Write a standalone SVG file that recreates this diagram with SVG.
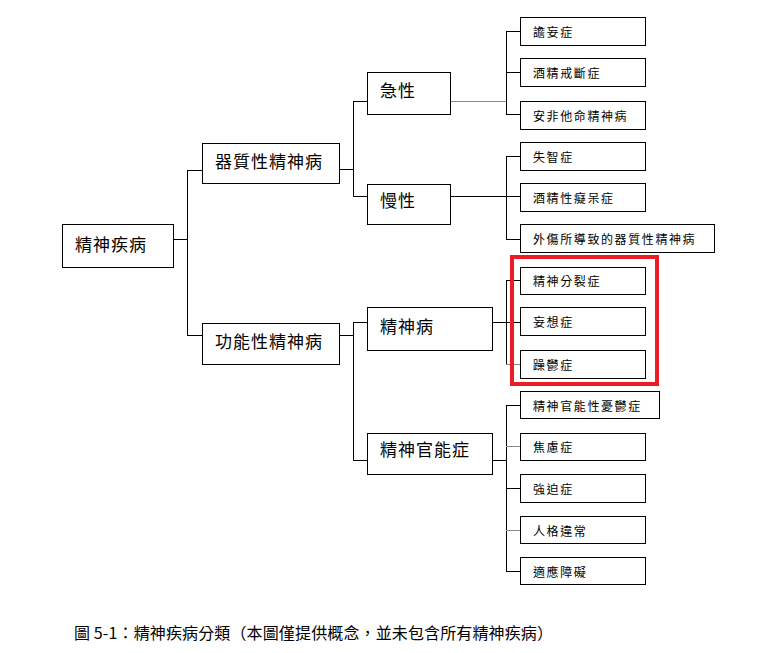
<svg xmlns="http://www.w3.org/2000/svg" width="777" height="653" viewBox="0 0 777 653">
<style>
.box{fill:#fff;stroke:#000;stroke-width:1}
.big{font-family:"Noto Sans CJK TC","Noto Sans CJK SC",sans-serif;font-size:17px;letter-spacing:1px;fill:#000}
.small{font-family:"Noto Sans CJK TC","Noto Sans CJK SC",sans-serif;font-size:12px;letter-spacing:1.6px;fill:#000}
.cap{font-family:"Noto Sans CJK TC","Noto Sans CJK SC",sans-serif;font-size:16px;fill:#000}
.ln{fill:none;stroke:#000;stroke-width:1}
.lg{fill:none;stroke:#888;stroke-width:1}
</style>
<rect width="777" height="653" fill="#fff"/>
<g id="connectors">
<path class="ln" d="M173,239.5H187.5M187.5,170V335.5M187,170.5H202M187,335.5H202"/>
<path class="ln" d="M339,169.5H353.5M353.5,101.5V197M353,101.5H367M353,196.5H367"/>
<path class="lg" d="M450,101.5H506"/>
<path class="ln" d="M506.5,31V114.5M506,31.5H520M506,72.5H520M506,114.5H520"/>
<path class="ln" d="M450,196.5H520M506.5,156.5V239.5M506,156.5H520M506,239.5H520"/>
<path class="ln" d="M339,335.5H353.5M353.5,322V460.5M353,322.5H367M353,460.5H367"/>
<path class="ln" d="M492,322.5H520M506.5,280.5V364.5M506,280.5H520"/>
<path class="lg" d="M506,364.5H520"/>
<path class="ln" d="M492,460.5H506.5M506.5,405V571.5M506,405.5H520M506,488.5H520M506,571.5H520"/>
<path class="lg" d="M506,446.5H520M506,530.5H520"/>
</g>
<g id="n-root"><rect class="box" x="62.5" y="224.5" width="111" height="43"/><text class="big" x="75" y="251">精神疾病</text></g>
<g id="n-organic"><rect class="box" x="202.5" y="143.5" width="137" height="40"/><text class="big" x="215" y="168">器質性精神病</text></g>
<g id="n-functional"><rect class="box" x="202.5" y="323.5" width="137" height="41"/><text class="big" x="215" y="348">功能性精神病</text></g>
<g id="n-acute"><rect class="box" x="367.5" y="72.5" width="83" height="42"/><text class="big" x="380" y="97">急性</text></g>
<g id="n-chronic"><rect class="box" x="367.5" y="184.5" width="83" height="40"/><text class="big" x="380" y="207">慢性</text></g>
<g id="n-psychosis"><rect class="box" x="367.5" y="307.5" width="125" height="43"/><text class="big" x="380" y="333">精神病</text></g>
<g id="n-neurosis"><rect class="box" x="367.5" y="433.5" width="125" height="41"/><text class="big" x="380" y="456">精神官能症</text></g>
<g id="n-delirium"><rect class="box" x="520.5" y="17.5" width="125" height="28"/><text class="small" x="533" y="37">譫妄症</text></g>
<g id="n-withdrawal"><rect class="box" x="520.5" y="58.5" width="125" height="28"/><text class="small" x="533" y="78">酒精戒斷症</text></g>
<g id="n-amphetamine"><rect class="box" x="520.5" y="101.5" width="125" height="28"/><text class="small" x="533" y="121">安非他命精神病</text></g>
<g id="n-dementia"><rect class="box" x="520.5" y="142.5" width="125" height="28"/><text class="small" x="533" y="162">失智症</text></g>
<g id="n-alcdementia"><rect class="box" x="520.5" y="183.5" width="125" height="28"/><text class="small" x="533" y="203">酒精性癡呆症</text></g>
<g id="n-trauma"><rect class="box" x="520.5" y="224.5" width="194" height="28"/><text class="small" x="533" y="244">外傷所導致的器質性精神病</text></g>
<g id="n-schizo"><rect class="box" x="520.5" y="267.5" width="125" height="27"/><text class="small" x="533" y="286">精神分裂症</text></g>
<g id="n-delusion"><rect class="box" x="520.5" y="307.5" width="125" height="28"/><text class="small" x="533" y="327">妄想症</text></g>
<g id="n-bipolar"><rect class="box" x="520.5" y="350.5" width="125" height="28"/><text class="small" x="533" y="370">躁鬱症</text></g>
<g id="n-neurodep"><rect class="box" x="520.5" y="391.5" width="139" height="27"/><text class="small" x="533" y="411">精神官能性憂鬱症</text></g>
<g id="n-anxiety"><rect class="box" x="520.5" y="433.5" width="125" height="27"/><text class="small" x="533" y="452">焦慮症</text></g>
<g id="n-ocd"><rect class="box" x="520.5" y="474.5" width="125" height="28"/><text class="small" x="533" y="494">強迫症</text></g>
<g id="n-personality"><rect class="box" x="520.5" y="516.5" width="125" height="27"/><text class="small" x="533" y="536">人格違常</text></g>
<g id="n-adjustment"><rect class="box" x="520.5" y="557.5" width="125" height="27"/><text class="small" x="533" y="577">適應障礙</text></g>
<g id="highlight"><rect x="512" y="257" width="145" height="127" fill="none" stroke="#ec1c24" stroke-width="4"/></g>
<text class="cap" x="74" y="639" textLength="479" lengthAdjust="spacing">圖 5-1：精神疾病分類（本圖僅提供概念，並未包含所有精神疾病）</text>
</svg>
